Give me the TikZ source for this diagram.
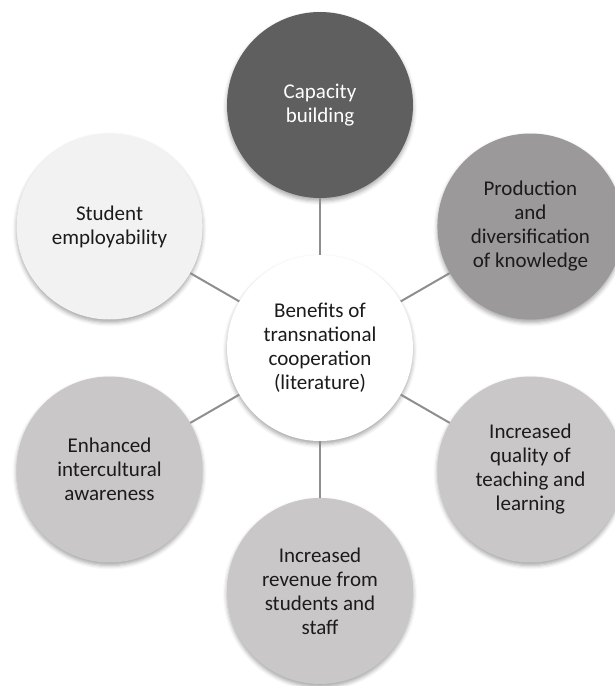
\documentclass[tikz,border=0pt]{standalone}
\usepackage{fontspec}
\setmainfont{Carlito}
\usepackage{xcolor}
\usetikzlibrary{shadows.blur}

\definecolor{capfill}{HTML}{5F5F5F}
\definecolor{prodfill}{HTML}{9B999A}
\definecolor{softfill}{HTML}{C9C7C8}
\definecolor{palefill}{HTML}{F2F2F2}
\definecolor{linkgray}{HTML}{8E8E8E}
\definecolor{textdark}{HTML}{1B1B1B}

\begin{document}
\begin{tikzpicture}[x=1pt, y=1pt,
    bubble/.style={circle, minimum size=186pt, inner sep=0pt, align=center,
        text=textdark, font=\fontsize{21}{24}\selectfont,
        blur shadow={shadow xshift=0pt, shadow yshift=-3pt,
            shadow blur radius=4pt, shadow opacity=35}},
    link/.style={line width=2pt, draw=linkgray}]
        \useasboundingbox (-320,-338) rectangle (294,348);
        %hub
        \node[bubble, fill=white] (hub) at (0,0){Benefits of\\transnational\\cooperation\\(literature)};
        %satellites
        \node[bubble, fill=capfill, text=white] (cap) at (90:243){Capacity\\building};
        \node[bubble, fill=prodfill] (prod) at (30:243){Production\\and\\diversification\\of knowledge};
        \node[bubble, fill=softfill] (qual) at (-30:243){Increased\\quality of\\teaching and\\learning};
        \node[bubble, fill=softfill] (rev) at (-90:243){Increased\\revenue from\\students and\\staff};
        \node[bubble, fill=softfill] (aware) at (-150:243){Enhanced\\intercultural\\awareness};
        \node[bubble, fill=palefill] (employ) at (150:243){Student\\employability};
        %links
        \draw[link] (hub) -- (cap);
        \draw[link] (hub) -- (prod);
        \draw[link] (hub) -- (qual);
        \draw[link] (hub) -- (rev);
        \draw[link] (hub) -- (aware);
        \draw[link] (hub) -- (employ);
    \end{tikzpicture}
\end{document}
